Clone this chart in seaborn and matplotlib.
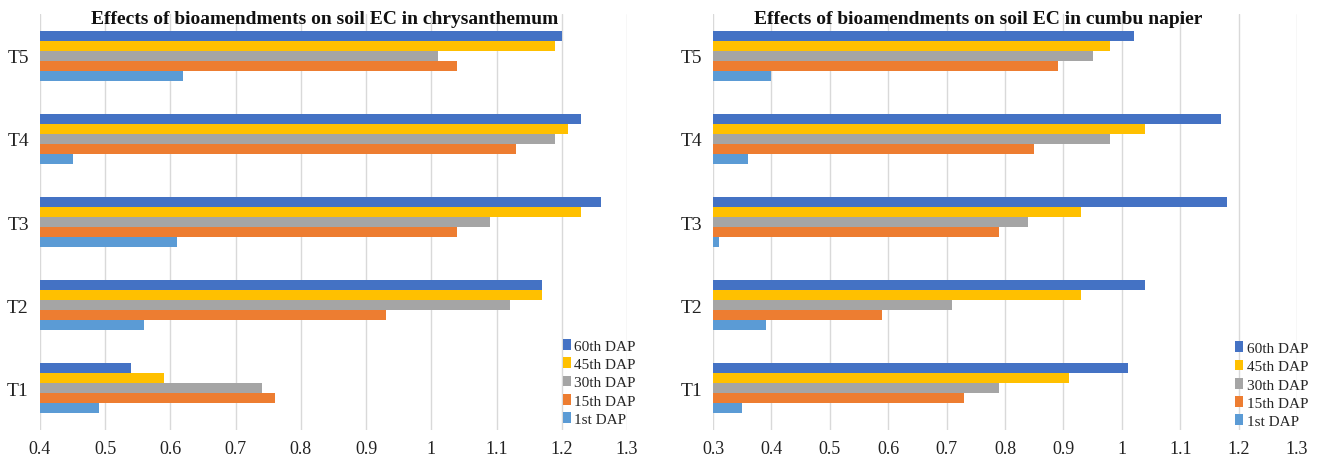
import pandas as pd
import matplotlib.pyplot as plt
import seaborn as sns

treatments = ["T5", "T4", "T3", "T2", "T1"]
stages = ["60th DAP", "45th DAP", "30th DAP", "15th DAP", "1st DAP"]
colors = ["#4472C4", "#FFC000", "#A5A5A5", "#ED7D31", "#5B9BD5"]

# values per stage, in the order of treatments (T5 .. T1)
chrys_60 = [1.20, 1.23, 1.26, 1.17, 0.54]
chrys_45 = [1.19, 1.21, 1.23, 1.17, 0.59]
chrys_30 = [1.01, 1.19, 1.09, 1.12, 0.74]
chrys_15 = [1.04, 1.13, 1.04, 0.93, 0.76]
chrys_1 = [0.62, 0.45, 0.61, 0.56, 0.49]

napier_60 = [1.02, 1.17, 1.18, 1.04, 1.01]
napier_45 = [0.98, 1.04, 0.93, 0.93, 0.91]
napier_30 = [0.95, 0.98, 0.84, 0.71, 0.79]
napier_15 = [0.89, 0.85, 0.79, 0.59, 0.73]
napier_1 = [0.40, 0.36, 0.31, 0.39, 0.35]

xticks_left = [0.4, 0.5, 0.6, 0.7, 0.8, 0.9, 1, 1.1, 1.2, 1.3]
xticks_right = [0.3, 0.4, 0.5, 0.6, 0.7, 0.8, 0.9, 1, 1.1, 1.2, 1.3]


def long_table(series):
    rows = []
    for stage, vals in zip(stages, series):
        for t, v in zip(treatments, vals):
            rows.append({"treatment": t, "stage": stage, "EC": v})
    return pd.DataFrame(rows)


chrys = long_table([chrys_60, chrys_45, chrys_30, chrys_15, chrys_1])
napier = long_table([napier_60, napier_45, napier_30, napier_15, napier_1])

sns.set_style("white")
plt.rcParams["font.family"] = ["Liberation Serif", "DejaVu Serif"]

fig, axes = plt.subplots(1, 2, figsize=(13.2, 4.6), dpi=100)
axes[0].set_position([0.0303, 0.063, 0.4447, 0.9044])
axes[1].set_position([0.5402, 0.063, 0.4424, 0.9044])

panels = [
    (axes[0], chrys, "Effects of bioamendments on soil EC in chrysanthemum",
     xticks_left, 0.4855, (0.891, 0.114)),
    (axes[1], napier, "Effects of bioamendments on soil EC in cumbu napier",
     xticks_right, 0.4538, (0.894, 0.109)),
]

for ax, df, title, ticks, title_x, leg_pos in panels:
    sns.barplot(data=df, x="EC", y="treatment", hue="stage", order=treatments,
                hue_order=stages, palette=colors, orient="h", width=0.6,
                saturation=1, edgecolor="none", ax=ax)
    ax.set_xlim(ticks[0], ticks[-1])
    ax.set_xticks(ticks)
    ax.set_xticklabels([f"{t:g}" for t in ticks])
    ax.set_ylim(4.5, -0.5)
    ax.grid(axis="x", color="#d9d9d9", linewidth=1)
    ax.set_axisbelow(True)
    for s in ax.spines.values():
        s.set_visible(False)
    ax.tick_params(axis="x", length=0, labelsize=13, colors="#222222", pad=7)
    ax.tick_params(axis="y", length=0, labelsize=14, colors="#222222", pad=8)
    ax.set_xlabel("")
    ax.set_ylabel("")
    ax.text(title_x, 0.99, title, transform=ax.transAxes, ha="center", va="center",
            fontsize=14, fontweight="bold", color="#111111")
    ax.legend(loc="center left", bbox_to_anchor=leg_pos, frameon=False, fontsize=11,
              handlelength=0.5, handleheight=0.7, handletextpad=0.25,
              labelspacing=0.3, borderaxespad=0, borderpad=0)

plt.savefig("out.png", dpi=100)
